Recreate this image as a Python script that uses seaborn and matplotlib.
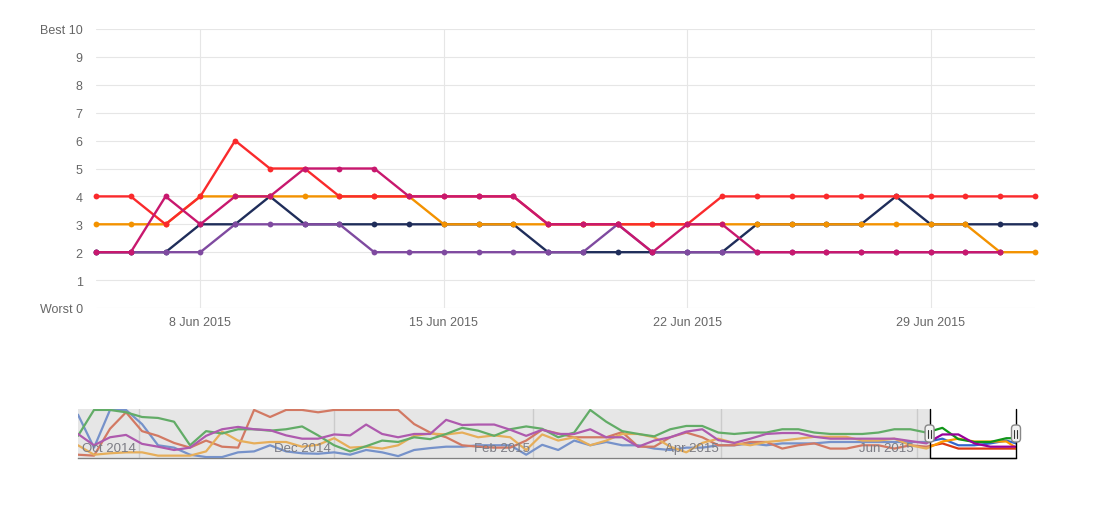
import numpy as np
import pandas as pd
import matplotlib
matplotlib.use("Agg")
import matplotlib.pyplot as plt
import matplotlib.dates as mdates
import seaborn as sns
from matplotlib.transforms import blended_transform_factory, offset_copy, IdentityTransform
from matplotlib.patches import FancyBboxPatch
from matplotlib.lines import Line2D

# ---------------- data ----------------
main_dates = pd.date_range("2015-06-05", "2015-07-02", freq="D")
navy = [2, 2, 2, 3, 3, 4, 3, 3, 3, 3, 3, 3, 3, 2, 2, 2, 2, 2, 2, 3, 3, 3, 3, 4, 3, 3, 3, 3]
orange = [3, 3, 3, 4, 4, 4, 4, 4, 4, 4, 3, 3, 3, 3, 3, 3, 3, 3, 3, 3, 3, 3, 3, 3, 3, 3, 2, 2]
red = [4, 4, 3, 4, 6, 5, 5, 4, 4, 4, 4, 4, 4, 3, 3, 3, 3, 3, 4, 4, 4, 4, 4, 4, 4, 4, 4, 4]
purple = [2, 2, 2, 2, 3, 3, 3, 3, 2, 2, 2, 2, 2, 2, 2, 3, 2, 2, 2, 2, 2, 2, 2, 2, 2, 2, 2]
magenta = [2, 2, 4, 3, 4, 4, 5, 5, 5, 4, 4, 4, 4, 3, 3, 3, 2, 3, 3, 2, 2, 2, 2, 2, 2, 2, 2]

y_ticks = [0, 1, 2, 3, 4, 5, 6, 7, 8, 9, 10]
y_labels = ["Worst 0", "1", "2", "3", "4", "5", "6", "7", "8", "9", "Best 10"]
x_ticks = ["2015-06-08", "2015-06-15", "2015-06-22", "2015-06-29"]

nav_dates = list(pd.date_range("2014-09-12", "2015-06-29", freq="5D")) + [pd.Timestamp("2015-07-02")]
nav_blue = [9, 2, 10, 10, 7, 2.5, 2, 0.5, 0, 0,
            1, 1.2, 2.5, 1.2, 0.8, 0.7, 1, 0.5, 1.5, 1,
            0.2, 1.5, 1.9, 2.2, 2.2, 2.5, 2.5, 2.5, 0.5, 2.6,
            1.5, 3.5, 2.5, 3.2, 2.5, 2.5, 1.8, 1.5, 2, 2,
            2.5, 2.5, 2.9, 2.5, 2.9, 2.9, 2.9, 3.2, 3.2, 3.2,
            3.2, 3.2, 3.2, 3.2, 3.9, 2.5, 2.5, 2.9, 3.5, 2.9]
nav_red = [0.5, 0.3, 6, 9.5, 5.5, 4.5, 3, 2, 3.5, 2.2,
           2, 10, 8.5, 10, 10, 9.5, 10, 10, 10, 10,
           10, 7, 5.2, 4.2, 2.5, 2.2, 2, 2, 3.5, 5.8,
           5, 4.2, 4.2, 4.2, 5.3, 2.2, 2.2, 4.2, 5.2, 4.2,
           2.5, 2.5, 3.2, 3.2, 1.8, 2.5, 2.9, 1.8, 1.8, 2.5,
           2.5, 1.8, 2.5, 2.2, 2.9, 1.8, 1.8, 1.8, 1.8, 1.8]
nav_orange = [2.5, 0.5, 0.8, 1, 1, 0.3, 0.3, 0.3, 1.2, 5.4,
              3.5, 2.9, 3.2, 3.2, 2.2, 2.6, 4, 2, 2.2, 1.8,
              2.5, 4.5, 5, 4.8, 5.2, 4.2, 4.6, 4.2, 1.5, 4.8,
              3.5, 4.2, 2.5, 3.5, 4.9, 4.9, 4.2, 2.2, 1, 3,
              3.9, 3, 2.5, 3.2, 3.5, 3.9, 4.3, 4.3, 4.3, 3.5,
              3.5, 3.9, 2.5, 1.8, 3.3, 3.9, 3.3, 3.3, 3.3, 2]
nav_green = [4.5, 10, 10, 9.5, 8.5, 8.3, 7.5, 2.5, 5.5, 5,
             5.9, 5.9, 5.6, 5.9, 6.5, 4.6, 2.5, 1.2, 2.3, 3.5,
             3.2, 4.2, 3.8, 4.9, 6.2, 5.6, 4.5, 5.9, 6.5, 6,
             4.2, 5.2, 10, 7.5, 5.5, 4.9, 4.4, 5.9, 6.6, 6.6,
             5.2, 4.9, 5.2, 5.2, 5.9, 5.9, 5.2, 4.9, 4.9, 4.9,
             5.2, 5.9, 5.9, 5.2, 6.2, 3.8, 3.2, 3.2, 4, 4]
nav_purple = [4.9, 2.5, 4.2, 4.7, 2.8, 2.2, 1.5, 2, 4.5, 5.9,
              6.4, 5.9, 5.7, 4.6, 3.9, 3.9, 4.8, 4.6, 6.9, 4.9,
              4.2, 4.9, 4.9, 7.9, 6.8, 6.9, 6.9, 5.8, 4.5, 5.8,
              4.9, 4.9, 5.9, 4.2, 4.2, 2.2, 3.5, 4.2, 5.4, 5.9,
              3.6, 3, 3.9, 4.9, 5.1, 5.1, 4.3, 3.9, 3.9, 3.9,
              3.9, 3.9, 3.4, 2.9, 4.8, 4.8, 2.9, 2.2, 2.2, 2.2]
nav_ticks = ["2014-10-01", "2014-12-01", "2015-02-01", "2015-04-01", "2015-06-01"]
nav_labels = ["Oct 2014", "Dec 2014", "Feb 2015", "Apr 2015", "Jun 2015"]
sel_start, sel_end = pd.Timestamp("2015-06-05"), pd.Timestamp("2015-07-02")

# ---------------- style ----------------
sns.set_theme(style="white")
plt.rcParams["font.family"] = ["Liberation Sans", "DejaVu Sans"]

fig = plt.figure(figsize=(10.98, 5.10), dpi=100)
W, H = 1098, 510

# ---------------- main chart ----------------
ax = fig.add_axes([96 / W, 1 - 309 / H, 939 / W, 279 / H])
main_series = [("navy", navy, "#1f2d5a"), ("orange", orange, "#f39200"),
               ("red", red, "#fa2a2c"), ("purple", purple, "#7f4aa0"),
               ("magenta", magenta, "#c8186e")]
for z, (name, vals, col) in enumerate(main_series):
    df = pd.DataFrame({"date": main_dates[:len(vals)], "value": vals})
    sns.lineplot(data=df, x="date", y="value", ax=ax, color=col, lw=1.7,
                 marker="o", markersize=4.2, markeredgewidth=0,
                 clip_on=False, zorder=3 + z)

ax.set_xlim(main_dates[0], main_dates[-1])
ax.set_ylim(0, 10)
ax.set_yticks(y_ticks)
ax.set_yticklabels(y_labels)
ax.set_xticks(pd.to_datetime(x_ticks))
ax.xaxis.set_major_formatter(mdates.DateFormatter("%-d %b %Y"))
ax.set_xlabel("")
ax.set_ylabel("")
for s in ax.spines.values():
    s.set_visible(False)
ax.grid(True, color="#e6e6e6", lw=0.8)
ax.set_axisbelow(True)
ax.tick_params(axis="y", length=0, pad=9.5, labelsize=9, labelcolor="#666666")
ax.tick_params(axis="x", length=0, pad=6, labelsize=9, labelcolor="#666666")

# ---------------- navigator ----------------
nav = fig.add_axes([78 / W, 1 - 459 / H, 938 / W, 49 / H])
nav_series = [(nav_blue, "#3366cc"), (nav_red, "#dc3912"), (nav_orange, "#ff9900"),
              (nav_green, "#109618"), (nav_purple, "#990099")]
for z, (vals, col) in enumerate(nav_series):
    df = pd.DataFrame({"date": nav_dates, "value": vals})
    sns.lineplot(data=df, x="date", y="value", ax=nav, color=col, lw=1.6, zorder=3 + z)
nav.set_xlim(nav_dates[0], nav_dates[-1])
nav.set_ylim(-0.2, 10.2)
nav.set_xlabel("")
nav.set_ylabel("")
nav.set_yticks([])
nav.set_xticks(pd.to_datetime(nav_ticks))
nav.set_xticklabels([])
nav.tick_params(axis="x", length=0)
nav.grid(True, axis="x", color="#cfcfcf", lw=1)
nav.set_axisbelow(True)
for k in ["top", "left", "right"]:
    nav.spines[k].set_visible(False)
nav.spines["bottom"].set_color("#808080")
nav.spines["bottom"].set_linewidth(1)

# mask over unselected range
nav.axvspan(nav_dates[0], sel_start, color="#c8c8c8", alpha=0.45, lw=0, zorder=10)

# labels
tr = blended_transform_factory(nav.transData, nav.transAxes)
tr_off = offset_copy(tr, fig=fig, x=-3, y=0, units="dots")
for d, lab in zip(pd.to_datetime(nav_ticks), nav_labels):
    nav.text(d, 0.2, lab, transform=tr_off, ha="right", va="center",
             fontsize=9.5, color="#7c7c84", zorder=12)

# selection outline
nav.add_line(Line2D([sel_start, sel_start, sel_end, sel_end], [1.0, 0.0, 0.0, 1.0],
                    transform=tr, color="black", lw=1, clip_on=False, zorder=13))

# handles
fig.canvas.draw()
for d in [sel_start, sel_end]:
    xd, yd = tr.transform((mdates.date2num(d), 0.5))
    hw, hh = 9, 17
    p = FancyBboxPatch((xd - hw / 2, yd - hh / 2), hw, hh,
                       boxstyle="round,pad=0,rounding_size=3.5",
                       transform=IdentityTransform(), facecolor="#f2f2f2",
                       edgecolor="#888888", lw=1, zorder=20)
    fig.add_artist(p)
    for dx in (-1.5, 1.5):
        fig.add_artist(Line2D([xd + dx, xd + dx], [yd - 4, yd + 4],
                              transform=IdentityTransform(), color="#333333",
                              lw=0.8, zorder=21))

fig.savefig("out.png", dpi=100)
